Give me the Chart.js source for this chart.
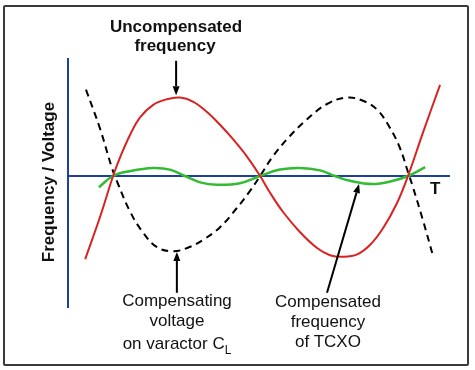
<!DOCTYPE html>
<html lang="en">
<head>
  <meta charset="UTF-8">
  <title>TCXO compensation</title>
  <script src="https://cdn.jsdelivr.net/npm/chart.js"></script>
  <style>
    body {
      margin: 0;
      background: #ffffff;
      font-family: Arial, "Liberation Sans", sans-serif;
    }
    .wrap {
      position: relative;
      width: 475px;
      height: 370px;
    }
    canvas {
      position: absolute;
      left: 0;
      top: 0;
    }
    .frame {
      position: absolute;
      left: 3px;
      top: 5px;
      width: 462px;
      height: 357px;
      border: 2px solid #3a3a3a;
      border-radius: 2px;
    }
    .lbl {
      position: absolute;
      font-size: 17px;
      line-height: 20px;
      color: #111;
      white-space: nowrap;
      transform: translateX(-50%);
    }
    .bold {
      font-weight: bold;
    }
    .ylab {
      position: absolute;
      left: -51px;
      top: 172px;
      width: 200px;
      text-align: center;
      font-size: 17px;
      line-height: 20px;
      font-weight: bold;
      color: #111;
      transform: rotate(-90deg);
    }
    sub {
      font-size: 12px;
      vertical-align: -5px;
      line-height: 0;
    }
  </style>
</head>
<body>
<div class="wrap">
  <canvas id="chart" width="475" height="370"></canvas>
  <div class="frame"></div>

  <div class="lbl bold" style="left:176px; top:17px;">Uncompensated</div>
  <div class="lbl bold" style="left:175px; top:36px;">frequency</div>

  <div class="ylab">Frequency / Voltage</div>

  <div class="lbl bold" style="left:436px; top:179px; transform:none; margin-left:-6px;">T</div>

  <div class="lbl" style="left:177px; top:291px;">Compensating</div>
  <div class="lbl" style="left:177px; top:311px;">voltage</div>
  <div class="lbl" style="left:177px; top:334px;">on varactor C<sub>L</sub></div>

  <div class="lbl" style="left:328px; top:292px;">Compensated</div>
  <div class="lbl" style="left:328px; top:312px;">frequency</div>
  <div class="lbl" style="left:328px; top:332px;">of TCXO</div>
</div>

<script>
  // values: T in 0..100, signal in relative units
  const uncompT = [4.5, 8.4, 11.8, 13.6, 16.2, 18.8, 22.3, 25.9, 29.3, 32.7, 36.4, 39.8, 43.2, 46.9, 50.3,
                   52.9, 56.3, 60.7, 65.2, 68.6, 72.0, 75.7, 79.1, 82.5, 86.1, 89.0, 92.9, 97.4];
  const uncompF = [-1.04, -0.51, 0, 0.23, 0.51, 0.73, 0.89, 0.96, 0.98, 0.93, 0.80, 0.64, 0.46, 0.24, 0,
                   -0.21, -0.45, -0.70, -0.90, -0.99, -1.01, -0.98, -0.86, -0.65, -0.34, 0, 0.54, 1.14];

  const voltT = [4.7, 8.4, 11.5, 13.1, 16.2, 19.4, 23.3, 27.5, 31.2, 35.3, 39.8, 44.2, 47.6, 50.3,
                 53.7, 58.1, 62.6, 67.8, 73.0, 77.2, 80.9, 84.3, 86.9, 89.0, 90.3, 92.9, 95.5];
  const voltV = [1.08, 0.59, 0.10, -0.10, -0.44, -0.69, -0.89, -0.94, -0.90, -0.80, -0.64, -0.40, -0.19, 0,
                 0.25, 0.50, 0.71, 0.90, 0.98, 0.94, 0.83, 0.60, 0.35, 0.05, -0.14, -0.55, -0.99];

  const compT = [8.1, 11.8, 16.2, 22.3, 26.7, 30.6, 34.6, 39.0, 45.0, 50.3, 55.5, 60.7, 66.0, 69.9,
                 73.8, 79.8, 85.1, 89.0, 93.5];
  const compF = [-0.14, 0, 0.06, 0.10, 0.08, 0, -0.08, -0.11, -0.09, 0, 0.08, 0.10, 0.07, 0,
                 -0.06, -0.10, -0.06, 0, 0.11];

  // arrows pointing at the curves: [fromT, fromY, toT, toY]
  const arrows = [
    [28.3, 1.44, 28.3, 1.01],
    [28.5, -1.46, 28.5, -0.95],
    [67.8, -1.46, 76.2, -0.10]
  ];

  const pts = (xs, ys) => xs.map((x, i) => ({x: x, y: ys[i]}));

  const axesAndArrows = {
    id: 'axesAndArrows',
    beforeDatasetsDraw(chart) {
      const ctx = chart.ctx, a = chart.chartArea;
      const y0 = chart.scales.y.getPixelForValue(0);
      ctx.save();
      ctx.strokeStyle = '#1f3f9f';
      ctx.lineWidth = 2;
      ctx.beginPath();
      ctx.moveTo(a.left, a.top);
      ctx.lineTo(a.left, a.bottom);
      ctx.moveTo(a.left, y0);
      ctx.lineTo(a.right, y0);
      ctx.stroke();
      ctx.restore();
    },
    afterDatasetsDraw(chart) {
      const ctx = chart.ctx, sx = chart.scales.x, sy = chart.scales.y;
      ctx.save();
      ctx.strokeStyle = '#000';
      ctx.fillStyle = '#000';
      ctx.lineWidth = 2;
      arrows.forEach(ar => {
        const x1 = sx.getPixelForValue(ar[0]), y1 = sy.getPixelForValue(ar[1]);
        const x2 = sx.getPixelForValue(ar[2]), y2 = sy.getPixelForValue(ar[3]);
        const ang = Math.atan2(y2 - y1, x2 - x1);
        const hl = 9, hw = 3.5;
        const bx = x2 - hl * Math.cos(ang), by = y2 - hl * Math.sin(ang);
        ctx.beginPath();
        ctx.moveTo(x1, y1);
        ctx.lineTo(bx, by);
        ctx.stroke();
        ctx.beginPath();
        ctx.moveTo(x2, y2);
        ctx.lineTo(bx + hw * Math.sin(ang), by - hw * Math.cos(ang));
        ctx.lineTo(bx - hw * Math.sin(ang), by + hw * Math.cos(ang));
        ctx.closePath();
        ctx.fill();
      });
      ctx.restore();
    }
  };

  new Chart(document.getElementById('chart'), {
    type: 'line',
    data: {
      datasets: [
        {
          label: 'Uncompensated frequency',
          data: pts(uncompT, uncompF),
          borderColor: '#d92323',
          borderWidth: 2,
          tension: 0.4,
          pointRadius: 0
        },
        {
          label: 'Compensated frequency of TCXO',
          data: pts(compT, compF),
          borderColor: '#33bb33',
          borderWidth: 2.5,
          tension: 0.4,
          pointRadius: 0
        },
        {
          label: 'Compensating voltage',
          data: pts(voltT, voltV),
          borderColor: '#000000',
          borderWidth: 2,
          borderDash: [7, 5],
          tension: 0.4,
          pointRadius: 0
        }
      ]
    },
    options: {
      responsive: false,
      animation: false,
      clip: false,
      layout: { padding: { left: 68, right: 25, top: 58, bottom: 62 } },
      plugins: { legend: { display: false }, tooltip: { enabled: false } },
      scales: {
        x: { type: 'linear', min: 0, max: 100, display: false },
        y: { min: -1.65, max: 1.475, display: false }
      }
    },
    plugins: [axesAndArrows]
  });
</script>
</body>
</html>
